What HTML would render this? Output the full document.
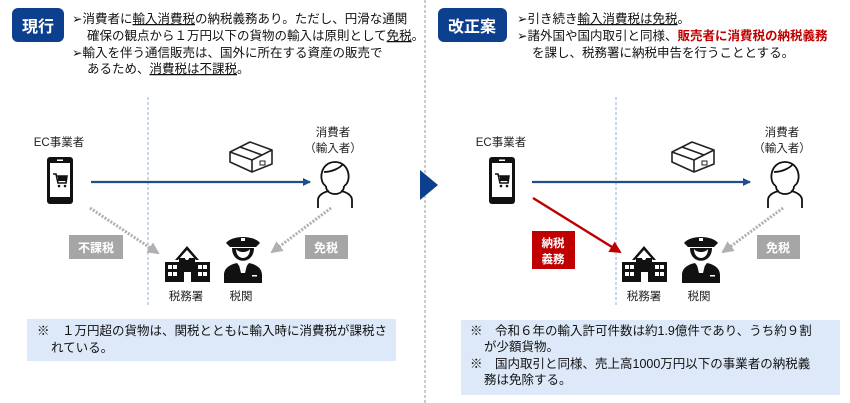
<!DOCTYPE html>
<html><head><meta charset="utf-8"><style>
body{margin:0;background:#fff;}
svg{display:block;font-family:"Liberation Sans","Noto Sans CJK JP",sans-serif;}
.t{font-size:12.5px;fill:#111;}
.s{font-size:11.5px;fill:#222;}
.u{text-decoration:underline;}
</style></head><body>
<svg width="850" height="403" viewBox="0 0 850 403" xmlns="http://www.w3.org/2000/svg">
<defs>
<marker id="ab" markerWidth="8" markerHeight="8" refX="7" refY="4" orient="auto" markerUnits="userSpaceOnUse"><path d="M0,0 L8,4 L0,8z" fill="#1f4e8c"/></marker>
<marker id="ag" markerWidth="12" markerHeight="12" refX="10" refY="6" orient="auto" markerUnits="userSpaceOnUse"><path d="M0,0 L12,6 L0,12z" fill="#b0b0b0"/></marker>
<marker id="ar" markerWidth="12" markerHeight="12" refX="10" refY="6" orient="auto" markerUnits="userSpaceOnUse"><path d="M0,0 L12,6 L0,12z" fill="#c00000"/></marker>
<g id="phone"><rect x="0" y="0" width="26" height="47" rx="3" fill="#111"/><rect x="3" y="6" width="20" height="34" fill="#fff"/><rect x="10" y="2.5" width="6" height="1.5" fill="#fff"/>
<path d="M6,17 h3 l2,9 h8 l1,-7 h-10" fill="none" stroke="#111" stroke-width="1.6"/><rect x="11" y="19" width="8" height="5" fill="#111"/><circle cx="12" cy="29" r="1.3" fill="#111"/><circle cx="18" cy="29" r="1.3" fill="#111"/></g>
<g id="box"><path d="M0,10 L20,0 L42,8 L42,22 L22,30 L0,20 Z M0,10 L22,18 L42,8 M22,18 L22,30 M10,5 L32,13" fill="#fff" stroke="#222" stroke-width="1.6" stroke-linejoin="round"/><rect x="30" y="19" width="5" height="4" fill="none" stroke="#222" stroke-width="1"/></g>
<g id="person"><path d="M8,26 C0,22 2,2 17,2 C32,2 34,22 26,26 M8,26 C8,31 12,34 17,34 C22,34 26,31 26,26 M6,12 C14,12 22,8 25,4" fill="none" stroke="#111" stroke-width="1.8"/><path d="M0,48 L0,40 C0,35 6,32 11,31 M34,48 L34,40 C34,35 28,32 23,31" fill="none" stroke="#111" stroke-width="1.8"/></g>
<g id="bld"><path d="M10,18 L22,4 L34,18 L31,18 L22,8 L13,18Z" fill="#111"/><rect x="14" y="16" width="16" height="24" fill="#111"/><rect x="0" y="20" width="45" height="20" fill="#111"/>
<rect x="3" y="23" width="4" height="4" fill="#fff"/><rect x="8" y="23" width="4" height="4" fill="#fff"/><rect x="3" y="30" width="4" height="4" fill="#fff"/><rect x="8" y="30" width="4" height="4" fill="#fff"/>
<rect x="33" y="23" width="4" height="4" fill="#fff"/><rect x="38" y="23" width="4" height="4" fill="#fff"/><rect x="33" y="30" width="4" height="4" fill="#fff"/><rect x="38" y="30" width="4" height="4" fill="#fff"/>
<rect x="19" y="30" width="7" height="10" fill="#fff"/><circle cx="22" cy="16" r="2" fill="#fff"/></g>
<g id="pol"><path d="M2,8 C8,0 30,0 36,8 L32,12 L6,12Z" fill="#111"/><rect x="17" y="3" width="4" height="3" fill="#fff"/>
<path d="M8,13 C8,30 30,30 30,13Z" fill="#111"/><path d="M12,14 C12,26 26,26 26,14Z" fill="#fff"/><path d="M12,14 C15,18 23,18 26,14" fill="#111"/>
<path d="M0,48 L0,40 C0,32 8,29 13,28 L19,36 L25,28 C30,29 38,32 38,40 L38,48Z" fill="#111"/><path d="M15,30 L19,36 L23,30 L21,38 L17,38Z" fill="#fff"/><rect x="28" y="40" width="5" height="1.5" fill="#fff"/></g>
</defs>

<!-- center divider -->
<line x1="425" y1="0" x2="425" y2="403" stroke="#999" stroke-width="1" stroke-dasharray="3,2"/>
<path d="M420,170 L438,185 L420,200Z" fill="#0d3f8f"/>

<!-- LEFT -->
<rect x="12" y="8" width="52" height="34" rx="6" fill="#0d3f8f"/>
<text x="38" y="32" font-size="16" font-weight="bold" fill="#fff" text-anchor="middle">現行</text>
<text class="t" x="72" y="23">➢消費者に<tspan class="u">輸入消費税</tspan>の納税義務あり。ただし、円滑な通関</text>
<text class="t" x="87" y="40">確保の観点から１万円以下の貨物の輸入は原則として<tspan class="u">免税</tspan>。</text>
<text class="t" x="72" y="57">➢輸入を伴う通信販売は、国外に所在する資産の販売で</text>
<text class="t" x="87" y="73">あるため、<tspan class="u">消費税は不課税</tspan>。</text>

<line x1="148" y1="97" x2="148" y2="307" stroke="#8fb0d8" stroke-width="1" stroke-dasharray="3,2"/>
<text class="s" x="59" y="146" text-anchor="middle">EC事業者</text>
<use href="#phone" x="47" y="157"/>
<line x1="91" y1="182" x2="310" y2="182" stroke="#1f4e8c" stroke-width="2.2" marker-end="url(#ab)"/>
<use href="#box" x="230" y="142"/>
<text class="s" x="333" y="136" text-anchor="middle">消費者</text>
<text class="s" x="333" y="152" text-anchor="middle">（輸入者）</text>
<use href="#person" x="318" y="160"/>
<line x1="90" y1="208" x2="158" y2="253" stroke="#b0b0b0" stroke-width="3" stroke-dasharray="2,1.5" marker-end="url(#ag)"/>
<line x1="331" y1="208" x2="272" y2="252" stroke="#b0b0b0" stroke-width="3" stroke-dasharray="2,1.5" marker-end="url(#ag)"/>
<rect x="69" y="235" width="54" height="24" fill="#a6a6a6"/>
<text x="96" y="252" font-size="12" font-weight="bold" fill="#fff" text-anchor="middle">不課税</text>
<rect x="305" y="235" width="43" height="24" fill="#a6a6a6"/>
<text x="326" y="252" font-size="12" font-weight="bold" fill="#fff" text-anchor="middle">免税</text>
<use href="#bld" x="165" y="242"/>
<use href="#pol" x="224" y="235"/>
<text class="s" x="186" y="300" text-anchor="middle">税務署</text>
<text class="s" x="241" y="300" text-anchor="middle">税関</text>
<rect x="27" y="319" width="369" height="42" fill="#dde9f8"/>
<text class="t" x="37" y="335">※　１万円超の貨物は、関税とともに輸入時に消費税が課税さ</text>
<text class="t" x="51" y="352">れている。</text>

<!-- RIGHT -->
<rect x="438" y="8" width="69" height="34" rx="6" fill="#0d3f8f"/>
<text x="472" y="32" font-size="16" font-weight="bold" fill="#fff" text-anchor="middle">改正案</text>
<text class="t" x="517" y="23">➢引き続き<tspan class="u">輸入消費税は免税</tspan>。</text>
<text class="t" x="517" y="40">➢諸外国や国内取引と同様、<tspan fill="#c00000" font-weight="bold">販売者に消費税の納税義務</tspan></text>
<text class="t" x="532" y="57">を課し、税務署に納税申告を行うこととする。</text>

<line x1="616" y1="97" x2="616" y2="307" stroke="#8fb0d8" stroke-width="1" stroke-dasharray="3,2"/>
<text class="s" x="501" y="146" text-anchor="middle">EC事業者</text>
<use href="#phone" x="489" y="157"/>
<line x1="532" y1="182" x2="750" y2="182" stroke="#1f4e8c" stroke-width="2.2" marker-end="url(#ab)"/>
<use href="#box" x="672" y="142"/>
<text class="s" x="782" y="136" text-anchor="middle">消費者</text>
<text class="s" x="782" y="152" text-anchor="middle">（輸入者）</text>
<use href="#person" x="768" y="160"/>
<line x1="533" y1="198" x2="620" y2="252" stroke="#c00000" stroke-width="2.5" marker-end="url(#ar)"/>
<line x1="783" y1="208" x2="723" y2="252" stroke="#b0b0b0" stroke-width="3" stroke-dasharray="2,1.5" marker-end="url(#ag)"/>
<rect x="532" y="231" width="43" height="38" fill="#c00000"/>
<text x="553" y="247" font-size="11.5" font-weight="bold" fill="#fff" text-anchor="middle">納税</text>
<text x="553" y="263" font-size="11.5" font-weight="bold" fill="#fff" text-anchor="middle">義務</text>
<rect x="757" y="235" width="43" height="24" fill="#a6a6a6"/>
<text x="778" y="252" font-size="12" font-weight="bold" fill="#fff" text-anchor="middle">免税</text>
<use href="#bld" x="622" y="242"/>
<use href="#pol" x="682" y="235"/>
<text class="s" x="644" y="300" text-anchor="middle">税務署</text>
<text class="s" x="699" y="300" text-anchor="middle">税関</text>
<rect x="461" y="320" width="379" height="75" fill="#dde9f8"/>
<text class="t" x="470" y="335">※　令和６年の輸入許可件数は約1.9億件であり、うち約９割</text>
<text class="t" x="484" y="351">が少額貨物。</text>
<text class="t" x="470" y="368">※　国内取引と同様、売上高1000万円以下の事業者の納税義</text>
<text class="t" x="484" y="384">務は免除する。</text>
</svg>
</body></html>
